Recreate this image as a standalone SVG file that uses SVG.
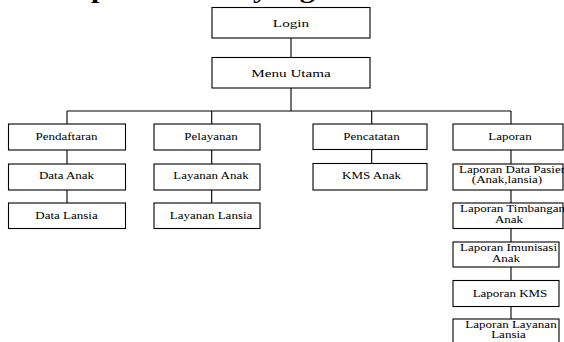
<svg xmlns="http://www.w3.org/2000/svg" width="564" height="342" viewBox="0 0 564 342">
  <style>
    .box { fill: #fff; stroke: #000; stroke-width: 1.1; }
    .wire { fill: none; stroke: #000; stroke-width: 1.1; }
    .t { font-family: "Liberation Serif", "Times New Roman", serif; fill: #000; text-anchor: middle; }
    .t.top { font-size: 11px; }
    .t.sub { font-size: 9.5px; }
    .t.left { text-anchor: start; }
    .head { font-family: "Liberation Serif", "Times New Roman", serif; font-weight: bold; font-size: 24px; fill: #000; }
  </style>

  <rect width="564" height="342" fill="#fff"/>

  <!-- heading, mostly above the top edge -->
  <g id="heading">
    <text class="head" transform="translate(91 -1.6) scale(1.25 1)">p</text>
    <text class="head" transform="translate(253 -1.6) scale(1.25 1)">yang</text>
  </g>

  <!-- connectors -->
  <g id="connectors">
    <path class="wire" d="M291 38V57.5M291 88V111M67 111H511M67 111V124M211.7 111V124M371.7 111V124M511 111V124"/>
    <path class="wire" d="M67 150V164M67 190V203"/>
    <path class="wire" d="M211.7 150V164M211.7 190V203"/>
    <path class="wire" d="M371.7 149.5V163.5"/>
    <path class="wire" d="M511 150V164M511 190V203M511 228.5V242M511 267V280.5M511 306.5V319"/>
  </g>

  <g id="login">
    <rect class="box" x="212" y="7.5" width="158" height="30.5"/>
    <text class="t top" transform="translate(291 26.5) scale(1.38 1)">Login</text>
  </g>
  <g id="menu-utama">
    <rect class="box" x="212" y="57.5" width="158" height="30.5"/>
    <text class="t top" transform="translate(291 77) scale(1.38 1)">Menu Utama</text>
  </g>

  <!-- Pendaftaran column -->
  <g id="pendaftaran">
    <rect class="box" x="8.5" y="124" width="117" height="26"/>
    <text class="t sub" transform="translate(66.5 139.5) scale(1.37 1)">Pendaftaran</text>
  </g>
  <g id="data-anak">
    <rect class="box" x="8.5" y="164" width="117" height="26"/>
    <text class="t sub" transform="translate(66.5 179) scale(1.37 1)">Data Anak</text>
  </g>
  <g id="data-lansia">
    <rect class="box" x="8.5" y="203" width="117" height="25.5"/>
    <text class="t sub" transform="translate(66.5 218.5) scale(1.37 1)">Data Lansia</text>
  </g>

  <!-- Pelayanan column -->
  <g id="pelayanan">
    <rect class="box" x="154" y="124" width="106" height="26"/>
    <text class="t sub" transform="translate(211 139.5) scale(1.37 1)">Pelayanan</text>
  </g>
  <g id="layanan-anak">
    <rect class="box" x="154" y="164" width="106" height="26"/>
    <text class="t sub" transform="translate(211 179) scale(1.37 1)">Layanan Anak</text>
  </g>
  <g id="layanan-lansia">
    <rect class="box" x="154" y="203" width="106" height="25.5"/>
    <text class="t sub" transform="translate(211 218.5) scale(1.37 1)">Layanan Lansia</text>
  </g>

  <!-- Pencatatan column -->
  <g id="pencatatan">
    <rect class="box" x="313" y="124" width="114" height="25.5"/>
    <text class="t sub" transform="translate(371.5 139.5) scale(1.37 1)">Pencatatan</text>
  </g>
  <g id="kms-anak">
    <rect class="box" x="313" y="163.5" width="114" height="26.5"/>
    <text class="t sub" transform="translate(371.5 179) scale(1.37 1)">KMS Anak</text>
  </g>

  <!-- Laporan column -->
  <g id="laporan">
    <rect class="box" x="453" y="124" width="110" height="26"/>
    <text class="t sub" transform="translate(510 139.5) scale(1.37 1)">Laporan</text>
  </g>
  <g id="laporan-data-pasien">
    <rect class="box" x="453" y="164" width="110" height="26"/>
    <text class="t sub left" transform="translate(459 173) scale(1.37 1)">Laporan Data Pasien</text>
    <text class="t sub" transform="translate(507 183) scale(1.37 1)">(Anak,lansia)</text>
  </g>
  <g id="laporan-timbangan">
    <rect class="box" x="453" y="203" width="110" height="25.5"/>
    <text class="t sub left" transform="translate(460 212) scale(1.37 1)">Laporan Timbangan</text>
    <text class="t sub" transform="translate(509 222.5) scale(1.37 1)">Anak</text>
  </g>
  <g id="laporan-imunisasi">
    <rect class="box" x="453" y="242" width="106" height="25"/>
    <text class="t sub" transform="translate(508.5 250.8) scale(1.37 1)">Laporan Imunisasi</text>
    <text class="t sub" transform="translate(506 261.5) scale(1.37 1)">Anak</text>
  </g>
  <g id="laporan-kms">
    <rect class="box" x="453" y="280.5" width="106" height="26"/>
    <text class="t sub" transform="translate(510 296.5) scale(1.37 1)">Laporan KMS</text>
  </g>
  <g id="laporan-layanan-lansia">
    <rect class="box" x="453" y="319" width="106" height="26"/>
    <text class="t sub" transform="translate(511 327.5) scale(1.37 1)">Laporan Layanan</text>
    <text class="t sub" transform="translate(508.5 337.5) scale(1.37 1)">Lansia</text>
  </g>
</svg>
